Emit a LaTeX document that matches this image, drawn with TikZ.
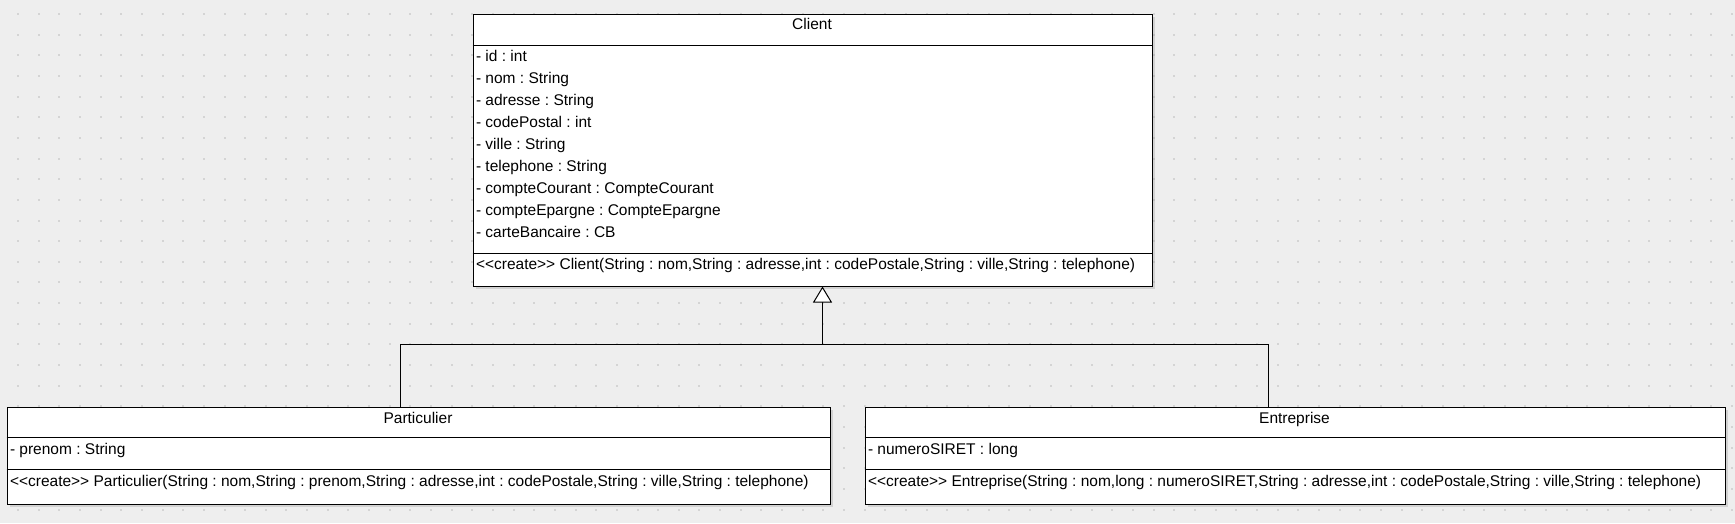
\documentclass[tikz,border=0pt]{standalone}
\usepackage{fontspec}
\setmainfont{Liberation Sans}[Ligatures=TeXOff]
\usetikzlibrary{arrows.meta,shadows}
\definecolor{canvas}{HTML}{EEEEEE}
\definecolor{griddot}{HTML}{D4D4D4}
\frenchspacing
\begin{document}
\begin{tikzpicture}[x=1pt, y=-1pt, thick, line width=1pt,
  umlbox/.style = {draw, fill=white, rectangle, anchor=north west, inner sep=0pt,
    drop shadow={shadow xshift=2.5pt, shadow yshift=-2.5pt, opacity=.25}},
  ttl/.style = {inner sep=0pt, text height=11pt, text depth=3pt, font=\fontsize{15.5}{18}\selectfont},
  attr/.style = {ttl, anchor=west},
  inherit/.style = {-{Triangle[length=16pt, width=19pt, fill=white]}}]
	\useasboundingbox (0,0) rectangle (1735,523);
	\fill[canvas] (0,0) rectangle (1735,523);
	\foreach \i in {0,...,83}
		\foreach \j in {0,...,24}
			\fill[griddot] ({17+20.65*\i},{13+20.65*\j}) rectangle ++(2,2);

	% Client
	\node[umlbox, minimum width=679pt, minimum height=272pt] (client) at (472.5,13.5) {};
	\draw (472.5,45.5) -- (1151.5,45.5);
	\draw (472.5,253.5) -- (1151.5,253.5);
	\node[ttl] (clientT) at (812,25) {Client};
	\foreach \txt [count=\k from 0] in {- id : int, - nom : String, - adresse : String, - codePostal : int,
		- ville : String, - telephone : String, - compteCourant : CompteCourant,
		- compteEpargne : CompteEpargne, - carteBancaire : CB}
		\node[attr] (clientA\k) at (475.5,{57+22*\k}) {\txt};
	\node[attr] (clientC) at (475.5,265) {<<create>> Client(String : nom,String : adresse,int : codePostale,String : ville,String : telephone)};

	% Particulier
	\node[umlbox, minimum width=823pt, minimum height=97pt] (part) at (6.5,406.5) {};
	\draw (6.5,437.5) -- (829.5,437.5);
	\draw (6.5,469.5) -- (829.5,469.5);
	\node[ttl] (partT) at (418,419) {Particulier};
	\node[attr] (partA) at (9.5,450) {- prenom : String};
	\node[attr] (partC) at (9.5,482) {<<create>> Particulier(String : nom,String : prenom,String : adresse,int : codePostale,String : ville,String : telephone)};

	% Entreprise
	\node[umlbox, minimum width=860pt, minimum height=97pt] (entr) at (864.5,406.5) {};
	\draw (864.5,437.5) -- (1724.5,437.5);
	\draw (864.5,469.5) -- (1724.5,469.5);
	\node[ttl] (entrT) at (1294.5,419) {Entreprise};
	\node[attr] (entrA) at (867.5,450) {- numeroSIRET : long};
	\node[attr] (entrC) at (867.5,482) {<<create>> Entreprise(String : nom,long : numeroSIRET,String : adresse,int : codePostale,String : ville,String : telephone)};

	% heritage
	\coordinate (fork) at (822.5,344.5);
	\draw ([xshift=-18.5pt]part.north) |- (fork) -| ([xshift=-27pt]entr.north);
	\draw[inherit] (fork) -- (fork |- client.south);
\end{tikzpicture}
\end{document}
